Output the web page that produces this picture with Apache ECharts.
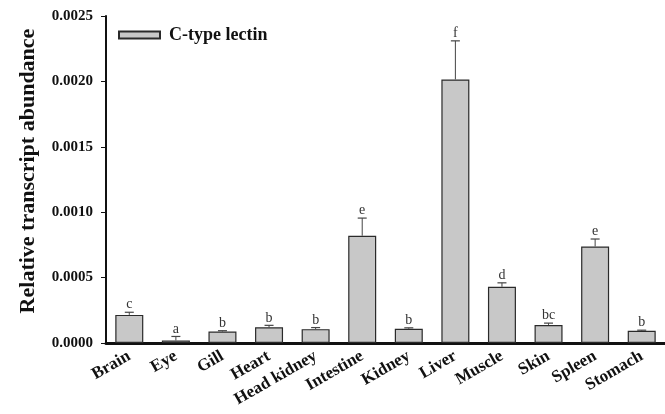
<!DOCTYPE html>
<html>
<head>
<meta charset="utf-8">
<script src="https://cdn.jsdelivr.net/npm/echarts@6/dist/echarts.min.js"></script>
<style>html,body{margin:0;padding:0;background:#fff;}#c{width:665px;height:414px;}</style>
</head>
<body>
<div id="c"></div>
<script>
var categories = ['Brain','Eye','Gill','Heart','Head kidney','Intestine','Kidney','Liver','Muscle','Skin','Spleen','Stomach'];
var means = [0.000215, 0.00002, 0.000088, 0.00012, 0.000106, 0.00082, 0.000108, 0.002015, 0.00043, 0.000138, 0.000738, 0.000093];
var errors = [0.00002, 0.00003, 0.000006, 0.000015, 0.000012, 0.000135, 0.000008, 0.000295, 0.00003, 0.000014, 0.000057, 0.000005];
var letters = ['c','a','b','b','b','e','b','f','d','bc','e','b'];
var yTicks = [0, 0.0005, 0.0010, 0.0015, 0.0020, 0.0025];

var FONT = 'Liberation Serif';
var chart = echarts.init(document.getElementById('c'), null, {renderer: 'canvas'});
var errData = categories.map(function (c, i) { return [i, means[i], errors[i], letters[i]]; });

chart.setOption({
  animation: false,
  backgroundColor: '#fff',
  grid: {left: 106, top: 16, width: 561, height: 327, containLabel: false},
  legend: {
    data: [{name: 'C-type lectin', icon: 'rect'}],
    left: 118, top: 26, padding: 0,
    itemWidth: 41, itemHeight: 7,
    textStyle: {fontFamily: FONT, fontWeight: 'bold', fontSize: 18, color: '#111', padding: [0, 0, 0, 4]}
  },
  xAxis: {
    type: 'category',
    data: categories,
    axisLine: {lineStyle: {color: '#111', width: 3}},
    axisTick: {alignWithLabel: true, length: 4, lineStyle: {color: '#111', width: 1}},
    axisLabel: {rotate: 30, margin: 12, fontFamily: FONT, fontWeight: 'bold', fontSize: 17, color: '#111', interval: 0}
  },
  yAxis: {
    type: 'value',
    min: yTicks[0], max: yTicks[yTicks.length - 1], interval: 0.0005,
    name: 'Relative transcript abundance',
    nameLocation: 'middle', nameGap: 67,
    nameTextStyle: {fontFamily: FONT, fontWeight: 'bold', fontSize: 22, color: '#111', padding: [0, 0, 0, 17]},
    splitLine: {show: false},
    axisLine: {show: true, lineStyle: {color: '#111', width: 2}},
    axisTick: {show: true, length: 5, lineStyle: {color: '#111', width: 1}},
    axisLabel: {margin: 13, fontFamily: FONT, fontWeight: 'bold', fontSize: 15, color: '#111',
      formatter: function (v) { return v.toFixed(4); }}
  },
  series: [
    {
      name: 'C-type lectin',
      type: 'bar',
      data: means,
      barWidth: 28,
      itemStyle: {color: '#c8c8c8', borderColor: '#2a2a2a', borderWidth: 1.2}
    },
    {
      type: 'custom',
      data: errData,
      z: 5,
      renderItem: function (params, api) {
        var i = api.value(0), m = api.value(1), e = api.value(2);
        var p0 = api.coord([i, m]);
        var p1 = api.coord([i, m + e]);
        var hw = 4.5;
        return {
          type: 'group',
          children: [
            {type: 'line', shape: {x1: p0[0], y1: p0[1], x2: p1[0], y2: p1[1]}, style: {stroke: '#444', lineWidth: 1}},
            {type: 'line', shape: {x1: p1[0] - hw, y1: p1[1], x2: p1[0] + hw, y2: p1[1]}, style: {stroke: '#444', lineWidth: 1.2}},
            {type: 'text', x: p1[0], y: p1[1] - 0.5, style: {text: letters[params.dataIndex], fontFamily: FONT, fontSize: 14, fill: '#333', align: 'center', verticalAlign: 'bottom'}}
          ]
        };
      }
    }
  ]
});
</script>
</body>
</html>
